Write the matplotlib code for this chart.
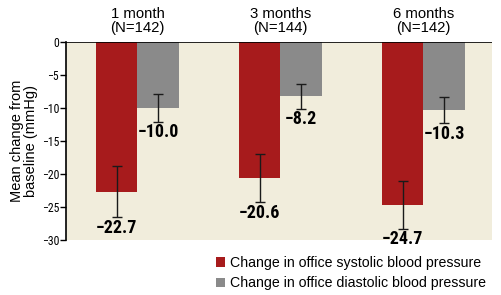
import numpy as np
import matplotlib
matplotlib.use("Agg")
import matplotlib.pyplot as plt
from matplotlib.patches import Patch

# ---------------------------------------------------------------
# data
# ---------------------------------------------------------------
groups = ["1 month\n(N=142)", "3 months\n(N=144)", "6 months\n(N=142)"]
systolic = [-22.7, -20.6, -24.7]
systolic_err = [3.85, 3.7, 3.6]
diastolic = [-10.0, -8.2, -10.3]
diastolic_err = [2.1, 1.9, 2.0]
series_names = ["Change in office systolic blood pressure",
                "Change in office diastolic blood pressure"]
yticks = [0, -5, -10, -15, -20, -25, -30]

RED = "#a71b1c"
GRAY = "#8a8a8a"
BG = "#f1eddc"
NARROW = ["Roboto Condensed", "Archivo Narrow", "PT Sans Narrow",
          "Liberation Sans Narrow", "DejaVu Sans"]
REGULAR = ["Liberation Sans", "Arimo", "DejaVu Sans"]

fig = plt.figure(figsize=(5.02, 2.95), dpi=100, facecolor="white")
ax = fig.add_axes([66 / 502, 1 - 240 / 295, 426 / 502, 198 / 295])
ax.set_facecolor(BG)

x = np.arange(len(groups))
w = 0.29

ax.bar(x - w / 2, systolic, w, color=RED, zorder=2)
ax.bar(x + w / 2, diastolic, w, color=GRAY, zorder=2)
ax.errorbar(x - w / 2, systolic, yerr=systolic_err, fmt="none",
            ecolor="#1a1a1a", elinewidth=1, capsize=3.5, capthick=1, zorder=3)
ax.errorbar(x + w / 2, diastolic, yerr=diastolic_err, fmt="none",
            ecolor="#1a1a1a", elinewidth=1, capsize=3.5, capthick=1, zorder=3)

# value labels under the error bars
for xs, vals, errs in [(x - w / 2, systolic, systolic_err),
                       (x + w / 2, diastolic, diastolic_err)]:
    for xi, v, e in zip(xs, vals, errs):
        ax.annotate(f"\u2212{abs(v):.1f}", xy=(xi, v - e), xytext=(0, -1),
                    textcoords="offset points", ha="center", va="top",
                    fontsize=13, fontweight="bold", family=NARROW,
                    annotation_clip=False)

# group headers above the plot
for xi, g in zip(x, groups):
    ax.annotate(g, xy=(xi, 1), xycoords=("data", "axes fraction"),
                xytext=(0, 5), textcoords="offset points",
                ha="center", va="bottom", multialignment="center",
                fontsize=10.7, family=REGULAR, linespacing=1.0)

ax.axhline(0, color="black", lw=1.2, zorder=4)
ax.set_xlim(-0.5, 2.48)
ax.set_ylim(-30, 0)
ax.set_xticks([])
ax.set_yticks(yticks)
ax.set_yticklabels([f"\u2212{abs(t)}" if t else "0" for t in yticks],
                   family=NARROW, fontsize=8.5)
ax.tick_params(axis="y", direction="out", length=4, width=1, pad=1)
for side in ["top", "right", "bottom"]:
    ax.spines[side].set_visible(False)
ax.spines["left"].set_linewidth(1.2)

ax.set_ylabel("Mean change from\nbaseline (mmHg)", family=REGULAR,
              fontsize=10.5, linespacing=0.95, labelpad=3)

handles = [Patch(facecolor=RED, edgecolor="none"),
           Patch(facecolor=GRAY, edgecolor="none")]
fig.legend(handles, series_names, loc="upper left",
           bbox_to_anchor=(216 / 502, 1 - 256 / 295), frameon=False,
           prop={"family": REGULAR, "size": 10.2}, handlelength=0.65,
           handleheight=0.65, handletextpad=0.35, labelspacing=0.45,
           borderpad=0, borderaxespad=0)

fig.savefig("out.png", dpi=100, facecolor="white")
